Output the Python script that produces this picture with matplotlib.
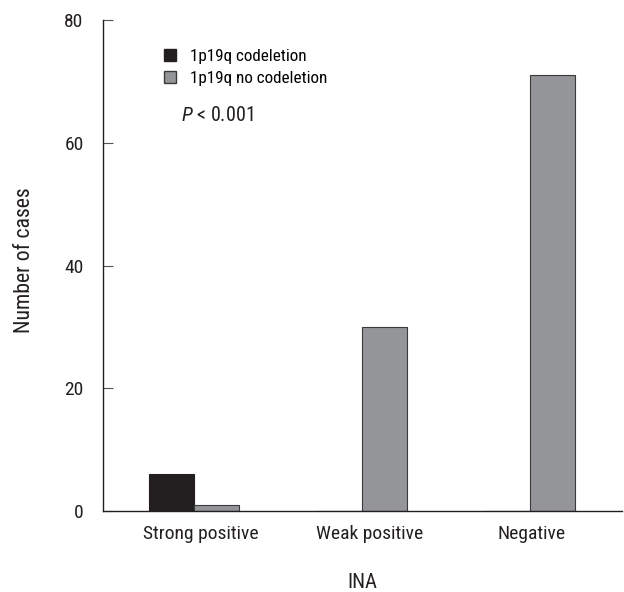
import numpy as np
import matplotlib
matplotlib.use("Agg")
import matplotlib.pyplot as plt
from matplotlib.patches import Patch
from matplotlib.transforms import Affine2D

plt.rcParams['font.family'] = ['Roboto Condensed', 'DejaVu Sans']
plt.rcParams['mathtext.fontset'] = 'custom'
plt.rcParams['mathtext.it'] = 'Roboto Condensed:italic'
plt.rcParams['mathtext.rm'] = 'Roboto Condensed'

categories = ['Strong positive', 'Weak positive', 'Negative']
codeletion = [6, 0, 0]
no_codeletion = [1, 30, 71]
series_names = ['1p19q codeletion', '1p19q no codeletion']

fig = plt.figure(figsize=(6.24, 5.92), dpi=100)
ax = fig.add_axes([0.165, 0.137, 0.832, 0.829])

x = np.arange(len(categories))
w = 0.27
ax.bar(x - w / 2, codeletion, w, color='#231f20', edgecolor='#231f20', linewidth=0.8)
ax.bar(x + w / 2, no_codeletion, w, color='#939598', edgecolor='#3a3a3a', linewidth=0.8)

ax.set_xlim(-0.542, 2.548)
ax.set_ylim(0, 80)
ax.set_yticks([0, 20, 40, 60, 80])
ax.set_xticks(x)
ax.set_xticklabels(categories)
ax.tick_params(axis='y', direction='in', length=7.2, width=0.8, color='#555555',
               pad=14, labelsize=14, labelcolor='#231f20')
ax.tick_params(axis='x', length=0, pad=10.5, labelsize=14, labelcolor='#231f20')
# labels in the source sit a little right of the group centres
for lbl, dx in zip(ax.get_xticklabels(), [6.5, 7.5, 2]):
    lbl.set_transform(lbl.get_transform() + Affine2D().translate(dx, 0))
for s in ['top', 'right']:
    ax.spines[s].set_visible(False)
for s in ['left', 'bottom']:
    ax.spines[s].set_linewidth(1.0)
    ax.spines[s].set_color('#231f20')

ax.set_ylabel('Number of cases', fontsize=15.7, color='#231f20', labelpad=21)
ax.yaxis.label.set_y(0.51)
ax.set_xlabel('INA', fontsize=15, color='#231f20', labelpad=21)

handles = [Patch(facecolor='#231f20', edgecolor='#231f20'),
           Patch(facecolor='#939598', edgecolor='#3a3a3a')]
ax.legend(handles, series_names, loc='upper left', bbox_to_anchor=(0.1175, 0.941),
          frameon=False, fontsize=12.3, handlelength=0.68, handleheight=0.68,
          handletextpad=0.85, labelspacing=0.42, borderpad=0, borderaxespad=0)
ax.text(0.150, 0.8065, r'$P$ < 0.001', transform=ax.transAxes, fontsize=14.5,
        color='#231f20', va='center')

fig.savefig('out.png', dpi=100)
